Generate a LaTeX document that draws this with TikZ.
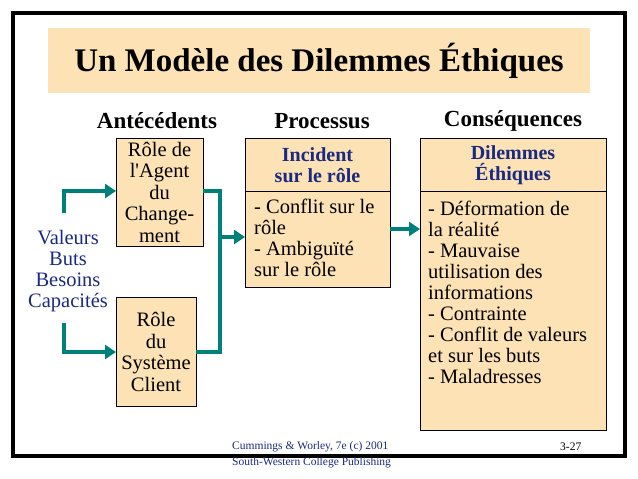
\documentclass[tikz,border=0pt]{standalone}
\usepackage{fontspec}
\setmainfont{Liberation Serif}
\usetikzlibrary{arrows.meta}
\definecolor{tan}{HTML}{FCE2B4}
\definecolor{navy}{HTML}{1A2A80}
\definecolor{teal2}{HTML}{00807A}
\tikzset{
 bx/.style={draw=black,fill=tan,line width=1pt},
 conn/.style={draw=teal2,line width=3.5pt},
 arr/.style={conn,-{Triangle[length=11pt,width=14pt]}},
 hd/.style={font=\fontsize{23}{26}\selectfont\bfseries},
 tx/.style={font=\fontsize{20.5}{21.5}\selectfont,align=center,inner sep=0pt},
 lt/.style={font=\fontsize{20.5}{21}\selectfont,align=left,anchor=north west,inner sep=0pt},
}
\begin{document}
\begin{tikzpicture}[x=1pt,y=-1pt]
\useasboundingbox (0,0) rectangle (638,479);
\draw[line width=4pt] (13,13) rectangle (625,456);
\node[fill=tan,minimum width=542pt,minimum height=65pt,font=\fontsize{33}{36}\selectfont\bfseries] (title) at (319,60.5) {Un Modèle des Dilemmes Éthiques};
\node[hd] (h1) at (157,121) {Antécédents};
\node[hd] (h2) at (322,121) {Processus};
\node[hd] (h3) at (513,121) {Conséquences};
\draw[bx] (116,138) rectangle (203,246);
\node[tx] (a) at (159.5,192) {Rôle de\\l\textquotesingle Agent\\du\\Change-\\ment};
\draw[bx] (116,297) rectangle (196,406);
\node[tx] (b) at (156,352) {Rôle\\du\\Système\\Client};
\draw[bx] (245,138) rectangle (390,287);
\draw[line width=1pt] (245,191) -- (390,191);
\node[tx,text=navy,font=\fontsize{20}{21}\selectfont\bfseries] (p) at (317.5,165) {Incident\\sur le rôle};
\node[lt] (pt) at (254,199) {- Conflit sur le\\rôle\\- Ambiguïté\\sur le rôle};
\draw[bx] (420,138) rectangle (606,430);
\draw[line width=1pt] (420,191) -- (606,191);
\node[tx,text=navy,font=\fontsize{20}{21}\selectfont\bfseries] (c) at (513,165) {Dilemmes\\Éthiques};
\node[lt] (ct) at (428,201) {- Déformation de\\la réalité\\- Mauvaise\\utilisation des\\informations\\- Contrainte\\- Conflit de valeurs\\et sur les buts\\- Maladresses};
\node[tx,text=navy,font=\fontsize{20.5}{21}\selectfont] (v) at (68,271.5) {Valeurs\\Buts\\Besoins\\Capacités};
\coordinate (a1) at (64,213); \coordinate (b1) at (64,323);
\draw[arr] (a1) |- (116,191);
\draw[arr] (b1) |- (116,352);
\draw[conn] (203,191) -| (220,352) -- (196,352);
\draw[arr] (218,237) -- (245,237);
\draw[arr] (390,229) -- (420,229);
\node[text=navy,font=\fontsize{11.5}{12}\selectfont,anchor=west,inner sep=0pt] (f1) at (232,447) {Cummings \& Worley, 7e (c) 2001};
\node[text=navy,font=\fontsize{11.5}{12}\selectfont,anchor=west,inner sep=0pt] (f2) at (232,463) {South-Western College Publishing};
\node[font=\fontsize{11.5}{12}\selectfont,anchor=west,inner sep=0pt] (f3) at (560,447) {3-27};
\end{tikzpicture}
\end{document}
